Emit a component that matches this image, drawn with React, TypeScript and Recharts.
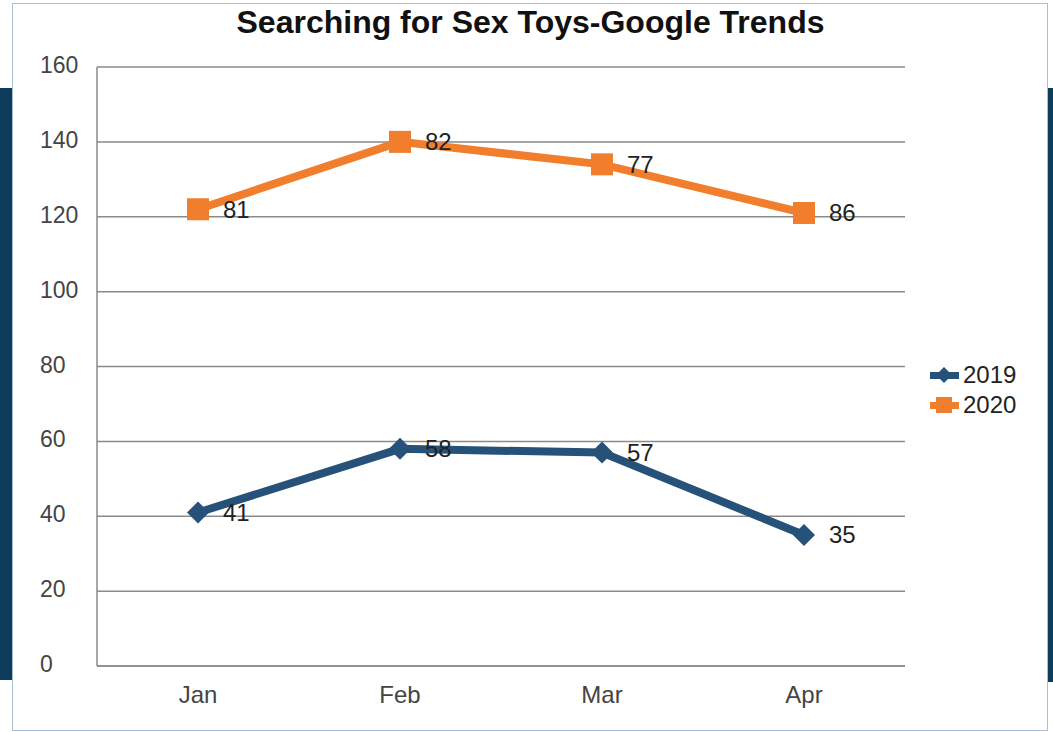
import React from "react";
import {
  CartesianGrid,
  LabelList,
  Line,
  LineChart,
  XAxis,
  YAxis,
} from "recharts";

const months = ["Jan", "Feb", "Mar", "Apr"];
const searches2019 = [41, 58, 57, 35];
const searches2020 = [81, 82, 77, 86];
const yTicks = [0, 20, 40, 60, 80, 100, 120, 140, 160];

const BLUE = "#265179";
const ORANGE = "#f07e2c";
const NAVY = "#0c3c59";
const FONT = "'Liberation Sans', Arial, sans-serif";

// the 2020 line is stacked on top of 2019, labels keep the raw values
const data = months.map((month, i) => ({
  month,
  y2019: searches2019[i],
  y2020: searches2019[i] + searches2020[i],
}));

function Diamond({ cx, cy, size = 11, fill }: any) {
  if (cx == null || cy == null) return null;
  return (
    <path
      d={`M${cx},${cy - size}L${cx + size},${cy}L${cx},${cy + size}L${cx - size},${cy}Z`}
      fill={fill}
    />
  );
}

function Square({ cx, cy, size = 11, fill }: any) {
  if (cx == null || cy == null) return null;
  return <rect x={cx - size} y={cy - size} width={size * 2} height={size * 2} fill={fill} />;
}

function makeLabel(values: number[]) {
  return (props: any) => {
    const { x, y, index } = props;
    return (
      <text
        x={x + 25}
        y={y + 2}
        fontSize={24}
        fontFamily={FONT}
        fill="#222"
        dominantBaseline="middle"
      >
        {values[index]}
      </text>
    );
  };
}

function YTick({ y, payload }: any) {
  return (
    <text x={40} y={y} fontSize={23} fontFamily={FONT} fill="#444" dominantBaseline="middle">
      {payload.value}
    </text>
  );
}

function LegendBox() {
  const items = [
    { name: "2019", color: BLUE, marker: "diamond" },
    { name: "2020", color: ORANGE, marker: "square" },
  ];
  return (
    <div style={{ fontFamily: FONT, fontSize: 24, color: "#222", lineHeight: "30px" }}>
      {items.map((item) => (
        <div key={item.name} style={{ display: "flex", alignItems: "center", height: 30 }}>
          <svg width={31} height={20} style={{ marginRight: 3 }}>
            <rect x={1} y={7} width={29} height={7} fill={item.color} />
            {item.marker === "diamond" ? (
              <Diamond cx={15} cy={10} size={8} fill={item.color} />
            ) : (
              <Square cx={15} cy={10} size={8} fill={item.color} />
            )}
          </svg>
          <span>{item.name}</span>
        </div>
      ))}
    </div>
  );
}

export default function App() {
  return (
    <div
      style={{
        position: "absolute",
        left: 0,
        top: 0,
        width: 1053,
        height: 732,
        background: "#fff",
        overflow: "hidden",
      }}
    >
      <div style={{ position: "absolute", left: 0, top: 88, width: 12, height: 592, background: NAVY }} />
      <div style={{ position: "absolute", left: 1047, top: 88, width: 6, height: 594, background: NAVY }} />
      <div
        style={{
          position: "absolute",
          left: 12,
          top: 3,
          width: 1034,
          height: 726,
          border: "1px solid #a9bed8",
        }}
      />
      <div
        style={{
          position: "absolute",
          left: 0,
          top: 4,
          width: 1061,
          textAlign: "center",
          fontFamily: FONT,
          fontWeight: "bold",
          fontSize: 32,
          color: "#111",
        }}
      >
        Searching for Sex Toys-Google Trends
      </div>
      <div style={{ position: "absolute", left: 0, top: 0 }}>
        <LineChart
          width={1053}
          height={732}
          data={data}
          margin={{ top: 67, right: 148, bottom: 36, left: 40 }}
        >
          <CartesianGrid vertical={false} stroke="#8a8a8a" strokeWidth={1.5} />
          <XAxis
            dataKey="month"
            height={30}
            padding={{ left: 101, right: 101 }}
            stroke="#8a8a8a"
            strokeWidth={1.5}
            tickLine={false}
            tick={{ fontSize: 24, fontFamily: FONT, fill: "#444" }}
            tickMargin={14}
          />
          <YAxis
            width={57}
            domain={[0, 160]}
            ticks={yTicks}
            stroke="#8a8a8a"
            strokeWidth={1.5}
            tickLine={false}
            tick={<YTick />}
          />
          <Line
            dataKey="y2019"
            name="2019"
            stroke={BLUE}
            strokeWidth={8}
            dot={(p: any) => <Diamond key={`d${p.index}`} cx={p.cx} cy={p.cy} size={11} fill={BLUE} />}
            activeDot={false}
            isAnimationActive={false}
          >
            <LabelList content={makeLabel(searches2019)} />
          </Line>
          <Line
            dataKey="y2020"
            name="2020"
            stroke={ORANGE}
            strokeWidth={8}
            dot={(p: any) => <Square key={`s${p.index}`} cx={p.cx} cy={p.cy} size={11} fill={ORANGE} />}
            activeDot={false}
            isAnimationActive={false}
          >
            <LabelList content={makeLabel(searches2020)} />
          </Line>
        </LineChart>
      </div>
      <div style={{ position: "absolute", left: 929, top: 360 }}>
        <LegendBox />
      </div>
    </div>
  );
}
